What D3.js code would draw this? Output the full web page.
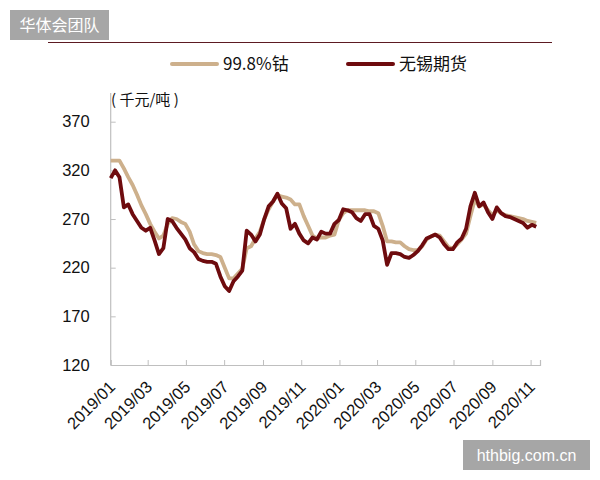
<!DOCTYPE html>
<html>
<head>
<meta charset="utf-8">
<script src="https://cdn.jsdelivr.net/npm/d3@7"></script>
<style>
  html, body { margin: 0; padding: 0; background: #fff; }
  svg { display: block; font-family: "Noto Sans CJK SC", "Liberation Sans", sans-serif; }
</style>
</head>
<body>
<div id="chart"></div>
<script>
// weekly samples starting 2019-01-01
const startDate = new Date(2019, 0, 1);
const endDate = new Date(2020, 10, 16);

const seriesNames = ['99.8%钴', '无锡期货'];
const seriesColors = ['#cdb08c', '#6e0b0e'];

// 99.8%钴 spot (千元/吨)
const cobaltSpot = [
  330, 330, 330, 322, 313, 305, 295, 284, 275, 265,
  257, 250, 253, 265, 271, 270, 267, 265, 257, 244,
  237, 235, 234, 234, 233, 231, 220, 209, 209, 214,
  219, 240, 242, 250, 257, 270, 280, 288, 295, 293,
  292, 290, 285, 285, 273, 263, 253, 250, 251, 251,
  253, 254, 269, 276, 279, 279, 279, 279, 279, 278,
  278, 276, 263, 247, 247, 246, 246, 242, 239, 238,
  238, 242, 249, 252, 254, 253, 247, 241, 240, 244,
  249, 255, 273, 290, 283, 285, 279, 274, 279, 276,
  274, 273, 272, 271, 270, 268, 267, 266
];

// 无锡期货 (千元/吨)
const wuxiFutures = [
  312, 320, 313, 282, 285, 275, 268, 261, 258, 261,
  248, 234, 240, 270, 268, 261, 255, 249, 240, 236,
  229, 227, 226, 226, 224, 211, 201, 196, 206, 211,
  217, 258, 254, 247, 254, 270, 283, 288, 296, 286,
  281, 260, 265, 255, 248, 245, 251, 249, 257, 255,
  255, 265, 269, 280, 279, 277, 271, 268, 275, 275,
  263, 260, 248, 223, 235, 235, 234, 231, 230, 233,
  237, 243, 250, 252, 254, 251, 244, 239, 239, 246,
  250, 260, 283, 297, 283, 287, 277, 270, 282, 276,
  273, 272, 270, 268, 266, 261, 264, 262
];

const yTicks = [120, 170, 220, 270, 320, 370];

const W = 600, H = 480;
const svg = d3.select('#chart').append('svg')
  .attr('width', W)
  .attr('height', H);

const dates = d3.range(cobaltSpot.length).map(i => d3.timeDay.offset(startDate, i * 7));

const x = d3.scaleTime()
  .domain([startDate, endDate])
  .range([110.7, 540]);

const y = d3.scaleLinear()
  .domain([120, 370])
  .range([365, 121.7]);

// header: watermark box + rule
svg.append('rect')
  .attr('x', 10).attr('y', 10)
  .attr('width', 99).attr('height', 30)
  .attr('fill', '#a6a6a6');
svg.append('text')
  .attr('x', 59.5).attr('y', 31)
  .attr('text-anchor', 'middle')
  .attr('fill', '#fff')
  .attr('font-size', 16)
  .text('华体会团队');

svg.append('line')
  .attr('x1', 48).attr('x2', 552)
  .attr('y1', 42.5).attr('y2', 42.5)
  .attr('stroke', '#5c1a22')
  .attr('stroke-width', 1.2);

// legend
const legend = [
  { x: 172, label: seriesNames[0], color: seriesColors[0] },
  { x: 348, label: seriesNames[1], color: seriesColors[1] }
];
legend.forEach(d => {
  svg.append('line')
    .attr('x1', d.x).attr('x2', d.x + 45)
    .attr('y1', 64).attr('y2', 64)
    .attr('stroke', d.color)
    .attr('stroke-width', 4)
    .attr('stroke-linecap', 'round');
  svg.append('text')
    .attr('x', d.x + 51).attr('y', 70)
    .attr('font-size', 17)
    .attr('fill', '#111')
    .text(d.label);
});

// unit label
svg.append('text')
  .attr('x', 111).attr('y', 105)
  .attr('font-size', 15)
  .attr('fill', '#111')
  .text('( 千元/吨 )');

// y axis
const yAxis = svg.append('g')
  .attr('transform', 'translate(110.7,0)')
  .call(d3.axisRight(y).tickValues(yTicks).tickSize(5).tickFormat(d3.format('d')));
yAxis.select('.domain').remove();
yAxis.selectAll('.tick line').attr('stroke', '#bfbfbf');
yAxis.selectAll('.tick text')
  .attr('x', -21)
  .attr('text-anchor', 'end')
  .attr('font-size', 16.5)
  .attr('font-family', '"Liberation Sans", "Noto Sans", sans-serif')
  .attr('fill', '#111');
svg.append('line')
  .attr('x1', 110.7).attr('x2', 110.7)
  .attr('y1', 93).attr('y2', 365)
  .attr('stroke', '#bfbfbf')
  .attr('stroke-width', 1.2);

// x axis
const xTicks = d3.timeMonth.every(2).range(startDate, endDate);
const xAxis = svg.append('g')
  .attr('transform', 'translate(0,365)')
  .call(d3.axisTop(x).tickValues(xTicks).tickSize(5).tickFormat(d3.timeFormat('%Y/%m')));
xAxis.select('.domain')
  .attr('stroke', '#bfbfbf')
  .attr('stroke-width', 1.2);
xAxis.selectAll('.tick line').attr('stroke', '#bfbfbf');
xAxis.selectAll('.tick text')
  .attr('y', 0)
  .attr('dy', 0)
  .attr('text-anchor', 'end')
  .attr('transform', 'translate(5,23) rotate(-45)')
  .attr('font-size', 16.5)
  .attr('font-family', '"Liberation Sans", "Noto Sans", sans-serif')
  .attr('fill', '#111');
xAxis.selectAll('.tick').filter((d, i) => i === 0).select('line').remove();

// lines
const line = d3.line()
  .x((d, i) => x(dates[i]))
  .y(d => y(d));

[cobaltSpot, wuxiFutures].forEach((vals, k) => {
  svg.append('path')
    .datum(vals)
    .attr('fill', 'none')
    .attr('stroke', seriesColors[k])
    .attr('stroke-width', 3.8)
    .attr('stroke-linejoin', 'round')
    .attr('d', line);
});

// bottom-right watermark
svg.append('rect')
  .attr('x', 463).attr('y', 440)
  .attr('width', 127).attr('height', 30)
  .attr('fill', '#a6a6a6');
svg.append('text')
  .attr('x', 526.5).attr('y', 461)
  .attr('text-anchor', 'middle')
  .attr('fill', '#fff')
  .attr('font-size', 16)
  .attr('font-family', '"Liberation Sans", sans-serif')
  .text('hthbig.com.cn');
</script>
</body>
</html>
